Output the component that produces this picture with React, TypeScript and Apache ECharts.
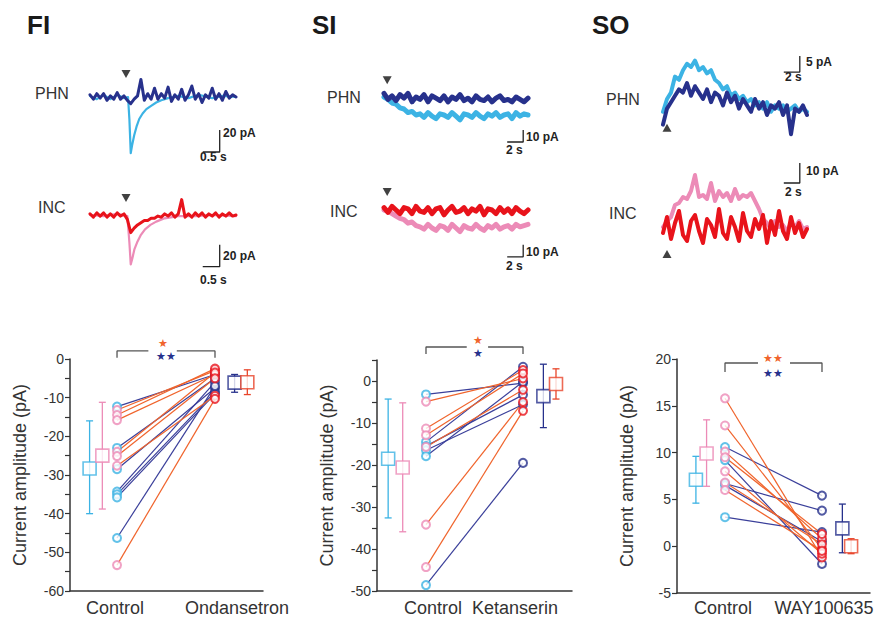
import React, { useEffect, useRef } from "react";
import * as echarts from "echarts";

const FONT = "'Liberation Sans', Arial, Helvetica, sans-serif";
const TEXT = "#333333";
const NAVY = "#27318c";
const CYAN = "#3cb3e4";
const RED = "#e8131b";
const PINK = "#ec8bb7";
const LINE_NAVY = "#3a3f9a";
const LINE_ORANGE = "#f0642c";
const MEAN_RED = "#e8452a";

// ---------------- Trace recordings (pA) ----------------
// FI (time step 0.1 s for uniform arrays)
const fiPhnControl = [[0, 1], [0.2, -2], [0.4, 2], [0.6, -2], [0.8, 2], [1.0, -1], [1.12, 0], [1.16, -20], [1.2, -51], [1.24, -44], [1.3, -35], [1.37, -27], [1.45, -20], [1.55, -15], [1.66, -11], [1.8, -8], [1.95, -5], [2.1, -3], [2.3, -1], [2.6, 1], [2.9, -1], [3.2, 2], [3.6, -1], [3.9, 1], [4.3, 0]];
const fiPhnDrug = [2, -2, 3, -1, 3, -3, 1, -2, 4, -2, 1, -3, -6, -2, 1, 16, -3, 3, -2, 8, -2, 3, -1, 9, -4, 2, -2, 7, -3, 2, 10, -2, 3, -5, 2, -1, 8, -2, 3, -3, 5, -1, 2, 0];
const fiIncControl = [[0, 0], [0.4, -1], [0.8, 1], [1.1, -1], [1.16, -25], [1.2, -45], [1.25, -39], [1.31, -31], [1.4, -24], [1.5, -18], [1.62, -13], [1.78, -9], [1.95, -6], [2.2, -3], [2.6, -1], [3.1, -1], [3.6, 0], [4.3, -1]];
const fiIncDrug = [1, -2, 2, -1, 2, -2, 1, -2, 2, -1, 1, -4, -16, -12, -9, -7, -5, -5, -3, -3, -1, -2, 1, -1, 2, -2, 1, 14, -2, 1, -2, 2, -1, 2, -2, 1, -1, 2, -2, 1, -1, 2, -1, 0];
// SI (time step 0.5 s)
const siPhnControl = [0, -2, -5, -6, -9, -10, -13, -12, -15, -14, -17, -13, -16, -18, -14, -15, -17, -13, -16, -19, -14, -15, -17, -13, -16, -18, -14, -16, -13, -17, -15, -14, -18, -13, -16, -14, -15];
const siPhnDrug = [3, -2, 1, -3, 2, -1, 3, -4, 0, -2, 2, -4, 1, -1, -3, 1, -4, 0, -2, 2, -3, -1, -4, 1, -2, -3, 0, -4, -1, 1, -3, -2, -4, 0, -2, -4, -1];
const siIncControl = [0, -1, -3, -5, -7, -8, -11, -10, -13, -14, -16, -12, -15, -17, -13, -14, -17, -12, -15, -18, -13, -15, -16, -12, -15, -17, -13, -15, -12, -16, -14, -13, -16, -12, -14, -13, -12];
const siIncDrug = [2, -2, 3, 0, -3, 2, 1, -3, 3, -1, -2, 2, -3, 1, 2, -4, 0, 3, -2, -1, 2, -3, 1, -1, 3, -4, 1, 0, -3, 2, -2, 1, -3, 2, -1, -3, 0];
// SO (time step 0.5 s)
const soPhnControl = [1, 5, 7, 12, 11, 14, 16, 15, 17, 14, 15, 13, 14, 11, 10, 8, 9, 6, 7, 5, 6, 4, 5, 3, 4, 2, 4, 1, 3, 2, 3, 1, 2, 3, 1, 2, 1];
const soPhnDrug = [-3, 2, 4, 6, 8, 7, 10, 6, 9, 7, 5, 8, 4, 7, 6, 3, 7, 4, 6, 2, 5, 3, 1, 5, 2, 4, 0, 3, 2, 4, 0, 3, -6, 2, 1, 3, 0];
const soIncControl = [0, 3, 5, 11, 12, 15, 14, 18, 26, 15, 16, 14, 22, 13, 18, 15, 17, 13, 19, 14, 16, 15, 17, 13, 9, 4, 2, -1, 3, 0, 1, -2, 2, 0, 3, -1, 0];
const soIncDrug = [-3, 5, -6, 2, 8, -4, -7, 3, 6, -2, -8, 4, 1, -5, 9, -3, -6, 5, 0, -7, 7, -2, -5, 4, -1, 6, -8, 3, -4, 8, -2, -6, 5, -3, 2, -5, -1];

// scale bars: [seconds, pA]
const scaleBarSizes = [[0.5, 20], [0.5, 20], [2, 10], [2, 10], [2, 5], [2, 10]];
const scaleBarTexts = [["0.5 s", "20 pA"], ["0.5 s", "20 pA"], ["2 s", "10 pA"], ["2 s", "10 pA"], ["2 s", "5 pA"], ["2 s", "10 pA"]];

// ---------------- Paired amplitudes (pA) ----------------
const fiCategories = ["Control", "Ondansetron"];
const siCategories = ["Control", "Ketanserin"];
const soCategories = ["Control", "WAY100635"];

const fiPhnCtrlAmp = [-12.3, -23.0, -28.5, -34.3, -35.0, -35.8, -46.3];
const fiPhnDrugAmp = [-4.0, -5.0, -7.5, -6.0, -8.5, -9.0, -7.0];
const fiIncCtrlAmp = [-13.2, -14.5, -15.8, -24.0, -25.1, -27.6, -53.3];
const fiIncDrugAmp = [-3.0, -2.5, -4.0, -3.5, -5.0, -9.5, -10.3];

const siPhnCtrlAmp = [-3.2, -14.5, -15.5, -16.5, -17.9, -48.6];
const siPhnDrugAmp = [-0.5, 3.4, -3.3, -5.6, -0.2, -19.5];
const siIncCtrlAmp = [-4.9, -11.3, -12.9, -15.7, -34.2, -44.3];
const siIncDrugAmp = [0.6, 2.6, 1.8, -2.1, -5.0, -7.1];

const soPhnCtrlAmp = [10.6, 9.2, 6.7, 6.5, 3.1];
const soPhnDrugAmp = [5.4, -1.9, 3.8, 0.5, 1.5];
const soIncCtrlAmp = [15.8, 12.9, 10.1, 9.5, 8.0, 6.8, 6.0];
const soIncDrugAmp = [-1.2, -0.3, 0.8, 1.3, -0.8, 0.2, -0.5];

// mean, low, high: PHN control, INC control, PHN drug, INC drug
const fiMeans = [[-28.3, -40.0, -16.0], [-25.0, -38.8, -11.2], [-6.1, -8.6, -4.0], [-6.0, -9.2, -2.8]];
const siMeans = [[-18.5, -32.6, -4.3], [-20.6, -35.9, -5.2], [-3.6, -11.1, 4.0], [-0.7, -4.3, 2.9]];
const soMeans = [[7.1, 4.6, 9.6], [9.9, 6.4, 13.5], [1.9, -0.7, 4.5], [0.0, -0.8, 0.8]];

// ---------------- Layout ----------------
const traceGrids = [
  { left: 90, top: 64, width: 146, height: 99, x: [0, 4.3], y: [-60, 30], w: [2.2, 3] },
  { left: 90, top: 182, width: 146, height: 99, x: [0, 4.3], y: [-60, 30], w: [2.2, 3] },
  { left: 384, top: 67, width: 144, height: 84, x: [0, 18], y: [-45, 25], w: [5, 5] },
  { left: 384, top: 180, width: 144, height: 84, x: [0, 18], y: [-45, 25], w: [5, 5] },
  { left: 663, top: 51, width: 146, height: 96, x: [0, 18.25], y: [-10, 20], w: [4, 4] },
  { left: 663, top: 157, width: 146, height: 110, x: [0, 18.25], y: [-20, 35], w: [4, 4] },
];
const scaleCorners = [[3.82, -50], [3.82, -47], [17.4, -37.5], [17.4, -39], [17.1, 13.4], [17.1, 22]];
const scaleTextPos = [
  [[200, 157], [223, 133]], [[200, 280], [223, 256]],
  [[506, 150], [526, 137]], [[506, 266], [526, 252]],
  [[785, 77], [806, 62]], [[785, 192], [806, 171]],
];
const stimMarks = [[1.06, 21, 180], [1.06, 15.5, 180], [0.4, 14, 180], [0.4, 15, 180], [0.5, -4, 0], [0.5, -13.5, 0]];

const dotGrids = [
  { left: 70, top: 359, width: 193, height: 232, x: [0.52, 2.49], y: [-60, 0], interval: 5, every10: true,
    meanX: [0.72, 0.85, 2.2, 2.33], bracket: [2.1, 0.3, 1.32, 1.61] },
  { left: 377, top: 360, width: 195, height: 231, x: [0.495, 2.505], y: [-50, 5], interval: 5, every10: true,
    meanX: [0.61, 0.76, 2.21, 2.34], bracket: [8.1, 6.4, 1.42, 1.64] },
  { left: 677, top: 359, width: 193, height: 234, x: [0.505, 2.495], y: [-5, 20], interval: 5, every10: false,
    meanX: [0.7, 0.81, 2.21, 2.3], bracket: [19.57, 18.6, 1.34, 1.67] },
];

function uniform(vals: number[], step: number) {
  return vals.map((v, i) => [i * step, v]);
}

function traceLine(gi: number, data: number[][], color: string, width: number) {
  return {
    type: "line", xAxisIndex: gi, yAxisIndex: gi, data, symbol: "none", silent: true,
    lineStyle: { color, width, join: "round", cap: "round" },
  };
}

function buildOption() {
  const grid: any[] = [];
  const xAxis: any[] = [];
  const yAxis: any[] = [];
  const series: any[] = [];
  const graphic: any[] = [];

  traceGrids.forEach((g, i) => {
    grid.push({ left: g.left, top: g.top, width: g.width, height: g.height });
    xAxis.push({ gridIndex: i, type: "value", min: g.x[0], max: g.x[1], show: false });
    yAxis.push({ gridIndex: i, type: "value", min: g.y[0], max: g.y[1], show: false });
  });

  const traces: [any, any, string, string][] = [
    [fiPhnControl, uniform(fiPhnDrug, 0.1), CYAN, NAVY],
    [fiIncControl, uniform(fiIncDrug, 0.1), PINK, RED],
    [uniform(siPhnControl, 0.5), uniform(siPhnDrug, 0.5), CYAN, NAVY],
    [uniform(siIncControl, 0.5), uniform(siIncDrug, 0.5), PINK, RED],
    [uniform(soPhnControl, 0.5), uniform(soPhnDrug, 0.5), CYAN, NAVY],
    [uniform(soIncControl, 0.5), uniform(soIncDrug, 0.5), PINK, RED],
  ];
  traces.forEach((t, i) => {
    const g = traceGrids[i];
    series.push(traceLine(i, t[0], t[2], g.w[0]));
    series.push(traceLine(i, t[1], t[3], g.w[1]));
    const [ax, ay] = scaleCorners[i];
    const [ts, pa] = scaleBarSizes[i];
    series.push({
      type: "line", xAxisIndex: i, yAxisIndex: i, symbol: "none", silent: true, clip: false,
      data: [[ax - ts, ay], [ax, ay], [ax, ay + pa]],
      lineStyle: { color: "#222", width: 1.3 },
    });
    const m = stimMarks[i];
    series.push({
      type: "scatter", xAxisIndex: i, yAxisIndex: i, silent: true, clip: false,
      data: [[m[0], m[1]]], symbol: "triangle", symbolSize: [9, 8], symbolRotate: m[2],
      itemStyle: { color: "#111" },
    });
    const tp = scaleTextPos[i];
    graphic.push({ type: "text", x: tp[0][0], y: tp[0][1], style: { text: scaleBarTexts[i][0], fontSize: 12, fontWeight: "bold", fontFamily: FONT, fill: "#222", textAlign: "left", textVerticalAlign: "middle" } });
    graphic.push({ type: "text", x: tp[1][0], y: tp[1][1], style: { text: scaleBarTexts[i][1], fontSize: 12, fontWeight: "bold", fontFamily: FONT, fill: "#222", textAlign: "left", textVerticalAlign: "middle" } });
  });

  const panels = [
    { ctrlP: fiPhnCtrlAmp, drugP: fiPhnDrugAmp, ctrlI: fiIncCtrlAmp, drugI: fiIncDrugAmp, means: fiMeans },
    { ctrlP: siPhnCtrlAmp, drugP: siPhnDrugAmp, ctrlI: siIncCtrlAmp, drugI: siIncDrugAmp, means: siMeans },
    { ctrlP: soPhnCtrlAmp, drugP: soPhnDrugAmp, ctrlI: soIncCtrlAmp, drugI: soIncDrugAmp, means: soMeans },
  ];

  dotGrids.forEach((g, p) => {
    const gi = 6 + p;
    const pn = panels[p];
    grid.push({ left: g.left, top: g.top, width: g.width, height: g.height });
    xAxis.push({
      gridIndex: gi, type: "value", min: g.x[0], max: g.x[1],
      axisLine: { show: true, onZero: false, lineStyle: { color: "#333", width: 1.5 } },
      axisTick: { show: false }, axisLabel: { show: false }, splitLine: { show: false },
    });
    yAxis.push({
      gridIndex: gi, type: "value", min: g.y[0], max: g.y[1], interval: g.interval,
      axisLine: { show: true, onZero: false, lineStyle: { color: "#333", width: 1.5 } },
      axisTick: { show: true, length: 5, lineStyle: { color: "#333", width: 1.2 } },
      axisLabel: {
        color: TEXT, fontSize: 14, fontFamily: FONT, margin: 6,
        formatter: (v: number) => (g.every10 && v % 10 !== 0 ? "" : String(v)),
      },
      splitLine: { show: false },
      name: "Current amplitude (pA)", nameLocation: "middle", nameGap: 41,
      nameTextStyle: { color: TEXT, fontSize: 18, fontFamily: FONT },
    });

    series.push({
      type: "lines", coordinateSystem: "cartesian2d", xAxisIndex: gi, yAxisIndex: gi, silent: true,
      data: pn.ctrlP.map((c, i) => ({ coords: [[1, c], [2, pn.drugP[i]]] })),
      lineStyle: { color: LINE_NAVY, width: 1.2, opacity: 1 },
    });
    series.push({
      type: "lines", coordinateSystem: "cartesian2d", xAxisIndex: gi, yAxisIndex: gi, silent: true,
      data: pn.ctrlI.map((c, i) => ({ coords: [[1, c], [2, pn.drugI[i]]] })),
      lineStyle: { color: LINE_ORANGE, width: 1.2, opacity: 1 },
    });
    const circ = (vals: number[], x: number, color: string) => ({
      type: "scatter", xAxisIndex: gi, yAxisIndex: gi, silent: true, z: 4,
      data: vals.map((v) => [x, v]), symbol: "circle", symbolSize: 8,
      itemStyle: { color: "#fff", borderColor: color, borderWidth: 2 },
    });
    series.push(circ(pn.ctrlP, 1, CYAN));
    series.push(circ(pn.ctrlI, 1, PINK));
    series.push(circ(pn.drugP, 2, NAVY));
    series.push(circ(pn.drugI, 2, RED));

    const meanColors = [CYAN, PINK, NAVY, MEAN_RED];
    series.push({
      type: "custom", xAxisIndex: gi, yAxisIndex: gi, silent: true, z: 3,
      data: pn.means.map((m, k) => [g.meanX[k], m[1], m[2]]),
      encode: { x: 0, y: [1, 2] },
      renderItem: (params: any, api: any) => {
        const color = meanColors[params.dataIndex];
        const x = api.value(0);
        const lo = api.coord([x, api.value(1)]);
        const hi = api.coord([x, api.value(2)]);
        const c = 3.5;
        const st = { stroke: color, lineWidth: 1.3 };
        return {
          type: "group",
          children: [
            { type: "line", shape: { x1: lo[0], y1: lo[1], x2: hi[0], y2: hi[1] }, style: st },
            { type: "line", shape: { x1: lo[0] - c, y1: lo[1], x2: lo[0] + c, y2: lo[1] }, style: st },
            { type: "line", shape: { x1: hi[0] - c, y1: hi[1], x2: hi[0] + c, y2: hi[1] }, style: st },
          ],
        };
      },
    });
    series.push({
      type: "scatter", xAxisIndex: gi, yAxisIndex: gi, silent: true, z: 5,
      symbol: "rect", symbolSize: 13,
      data: pn.means.map((m, k) => ({
        value: [g.meanX[k], m[0]],
        itemStyle: { color: "#fff", borderColor: meanColors[k], borderWidth: 1.6 },
      })),
    });
    const [by, bt, g1, g2] = g.bracket;
    const bstyle = { color: "#555", width: 1.3 };
    series.push({ type: "line", xAxisIndex: gi, yAxisIndex: gi, clip: false, symbol: "none", silent: true, data: [[1, bt], [1, by], [g1, by]], lineStyle: bstyle });
    series.push({ type: "line", xAxisIndex: gi, yAxisIndex: gi, clip: false, symbol: "none", silent: true, data: [[g2, by], [2, by], [2, bt]], lineStyle: bstyle });
  });

  const txt = (text: string, x: number, y: number, size: number, opts: any = {}) => ({
    type: "text", x, y,
    style: { text, fontSize: size, fontFamily: FONT, fill: TEXT, textAlign: "left", textVerticalAlign: "middle", ...opts },
  });
  // panel titles
  graphic.push(txt("FI", 27, 25, 26, { fontWeight: "bold", fill: "#1a1a1a" }));
  graphic.push(txt("SI", 312, 25, 26, { fontWeight: "bold", fill: "#1a1a1a" }));
  graphic.push(txt("SO", 592, 25, 26, { fontWeight: "bold", fill: "#1a1a1a" }));
  // trace labels
  graphic.push(txt("PHN", 35, 93, 16));
  graphic.push(txt("INC", 38, 207, 16));
  graphic.push(txt("PHN", 327, 97, 16));
  graphic.push(txt("INC", 330, 211, 16));
  graphic.push(txt("PHN", 606, 99, 16));
  graphic.push(txt("INC", 609, 213, 16));
  // category labels
  const cats = [
    [fiCategories, [115, 237]],
    [siCategories, [433, 515]],
    [soCategories, [723, 824]],
  ] as [string[], number[]][];
  cats.forEach(([names, xs]) => {
    names.forEach((n, k) => graphic.push(txt(n, xs[k], 608, 18, { textAlign: "center" })));
  });
  // significance stars
  graphic.push(txt("★", 163, 343, 11, { textAlign: "center", fill: LINE_ORANGE }));
  graphic.push(txt("★★", 166, 356, 11, { textAlign: "center", fill: NAVY }));
  graphic.push(txt("★", 478, 340, 11, { textAlign: "center", fill: LINE_ORANGE }));
  graphic.push(txt("★", 478, 353, 11, { textAlign: "center", fill: NAVY }));
  graphic.push(txt("★★", 773, 358, 11, { textAlign: "center", fill: LINE_ORANGE }));
  graphic.push(txt("★★", 773, 373, 11, { textAlign: "center", fill: NAVY }));

  return { animation: false, backgroundColor: "#fff", grid, xAxis, yAxis, series, graphic };
}

export default function App() {
  const ref = useRef<HTMLDivElement>(null);
  useEffect(() => {
    document.body.style.margin = "0";
    const chart = echarts.init(ref.current!, null, { renderer: "svg" });
    chart.setOption(buildOption() as any);
    return () => chart.dispose();
  }, []);
  return <div ref={ref} style={{ width: 883, height: 617 }} />;
}
